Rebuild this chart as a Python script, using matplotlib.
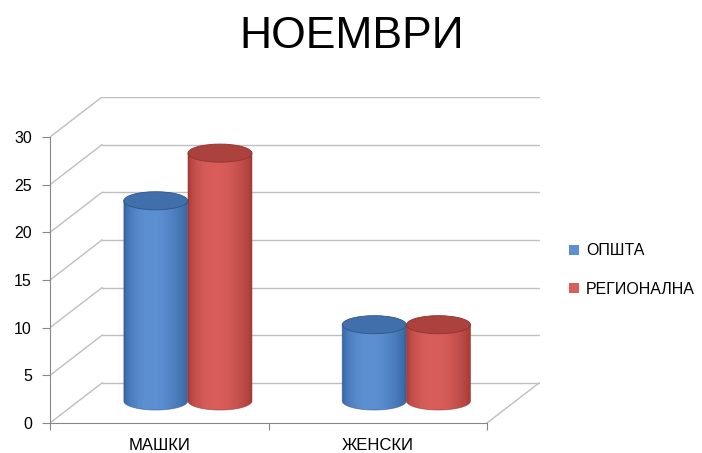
import numpy as np
import matplotlib.pyplot as plt
from matplotlib.patches import Polygon, Ellipse, Patch
from matplotlib.colors import to_rgb

plt.rcParams['font.family'] = ['Liberation Sans', 'DejaVu Sans']

title = 'НОЕМВРИ'
categories = ['МАШКИ', 'ЖЕНСКИ']
series_names = ['ОПШТА', 'РЕГИОНАЛНА']
opshta = [21, 8]
regionalna = [26, 8]
yticks = [0, 5, 10, 15, 20, 25, 30]

# body shading: (edge colour, highlight colour, top colour)
blue = ('#33609B', '#5C90D2', '#416FAB')
red = ('#A23834', '#D95E5A', '#AC423E')

# oblique "3d" look: depth offset of the back wall in data units
DX = 0.238
DY = 4.2
DEPTH = 0.55     # cylinders stand about halfway back
BAR_W = 0.293
BAR_GAP = 0.147
ELL_H = 0.95     # half height of the ellipses

GRID = '#BFBFBF'
AXIS = '#868686'

fig = plt.figure(figsize=(7.02, 4.53), dpi=100)
ax = fig.add_axes([50 / 702, 30 / 453, 490 / 702, 326 / 453])

# side wall + back wall gridlines
for v in yticks:
    ax.plot([0, DX], [v, v + DY], color=GRID, lw=1, zorder=1)
    ax.plot([DX, len(categories) + DX], [v + DY, v + DY], color=GRID, lw=1, zorder=1)
# floor right edge
ax.plot([len(categories), len(categories) + DX], [0, DY], color=GRID, lw=1, zorder=1)


def cylinder(ax, xc, v, colors):
    dark, light, top = [np.array(to_rgb(c)) for c in colors]
    x0, x1 = xc - BAR_W / 2, xc + BAR_W / 2
    yb = DY * DEPTH
    yt = yb + v
    th = np.linspace(np.pi, 2 * np.pi, 80)
    verts = np.column_stack([xc + BAR_W / 2 * np.cos(th), yb + ELL_H * np.sin(th)])
    verts = np.vstack([verts, [[x1, yt], [x0, yt]]])
    clip = Polygon(verts, closed=True, transform=ax.transData)

    t = np.linspace(0, 1, 120)
    prof = np.sin(np.pi * t ** 0.8) ** 0.7
    img = dark[None, :] + (light - dark)[None, :] * prof[:, None]
    im = ax.imshow(img[None, :, :], extent=[x0, x1, yb - ELL_H, yt],
                   aspect='auto', interpolation='bilinear', zorder=3)
    im.set_clip_path(clip)
    ax.add_patch(Polygon(verts, closed=True, fill=False, ec=dark * 0.9,
                         lw=0.6, alpha=0.6, zorder=3))
    ax.add_patch(Ellipse((xc, yt), BAR_W, 2 * ELL_H, fc=top,
                         ec=dark * 0.9, lw=0.6, zorder=4))


for i in range(len(categories)):
    cylinder(ax, i + 0.5 - BAR_GAP + DX * DEPTH, opshta[i], blue)
    cylinder(ax, i + 0.5 + BAR_GAP + DX * DEPTH, regionalna[i], red)

ax.set_xlim(0, 490 / 218.5)
ax.set_ylim(0, 326 / 9.533)

for s in ['top', 'right']:
    ax.spines[s].set_visible(False)
ax.spines['left'].set_bounds(0, 30)
ax.spines['bottom'].set_bounds(0, len(categories))
ax.spines['left'].set_color(AXIS)
ax.spines['bottom'].set_color(AXIS)

ax.set_yticks(yticks)
ax.set_yticklabels([str(v) for v in yticks], fontsize=11.5)
ax.tick_params(axis='y', length=6, color=AXIS, pad=7)
ax.set_xticks(range(len(categories) + 1))
ax.set_xticklabels([])
ax.tick_params(axis='x', which='major', length=5, color=AXIS)
ax.set_xticks([i + 0.5 for i in range(len(categories))], minor=True)
ax.set_xticklabels(categories, minor=True, fontsize=12)
ax.tick_params(axis='x', which='minor', length=0, pad=11)

fig.text(352 / 702, 1 - 36 / 453, title, ha='center', va='center', fontsize=32)

handles = [Patch(fc=blue[1], ec='none'), Patch(fc=red[1], ec='none')]
fig.legend(handles, series_names, loc='center left',
           bbox_to_anchor=(569 / 702, 1 - 270 / 453), frameon=False,
           fontsize=11.5, handlelength=0.6, handleheight=0.6, handletextpad=0.45,
           labelspacing=1.45, borderpad=0, borderaxespad=0)

fig.savefig('out.png', dpi=100)
